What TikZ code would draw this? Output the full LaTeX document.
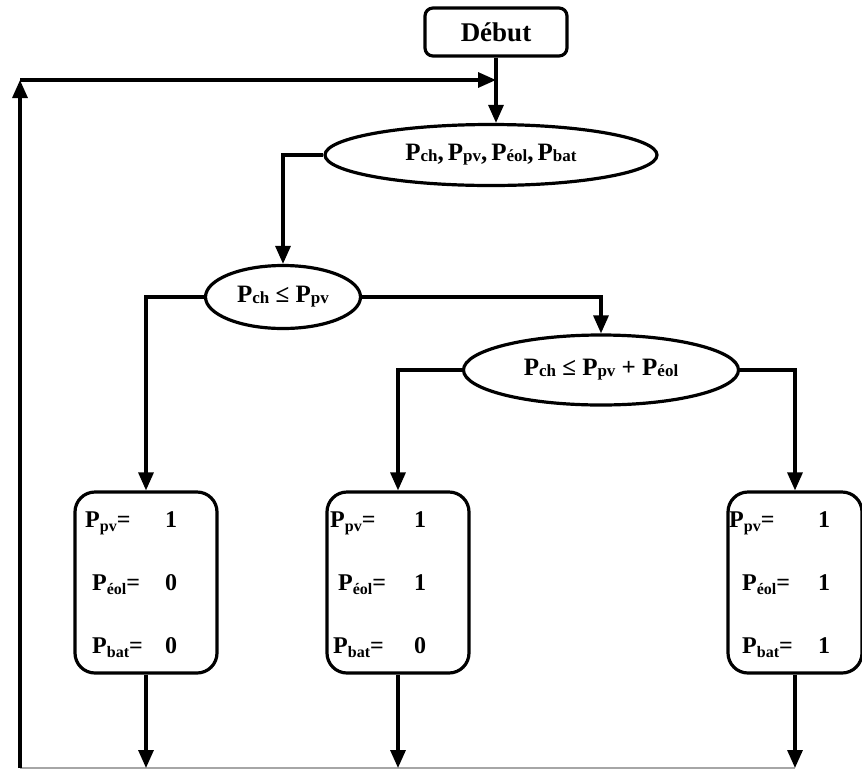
\documentclass[tikz,border=0pt]{standalone}
\usepackage{fontspec}
\setmainfont{Liberation Serif}
\usetikzlibrary{arrows.meta,shapes.geometric}

% subscript size and drop, set per node style
\newcommand\subsz{17}
\newcommand\sublow{1pt}
\newcommand\lowtxt[1]{\raisebox{-\sublow}{\fontsize{\subsz}{\subsz}\selectfont #1}}
\newcommand\Pw[1]{P\lowtxt{#1}}

\tikzset{
  flow/.style={line width=3.2pt},
  arr/.style={flow, -{Triangle[length=18pt,width=15pt]}},
  ovalbox/.style={ellipse, draw, line width=3.2pt, inner sep=0pt,
    font=\bfseries\fontsize{25}{30}\selectfont},
  startbox/.style={rectangle, rounded corners=8pt, draw, line width=3.2pt,
    minimum width=142pt, minimum height=48pt, inner sep=0pt,
    font=\bfseries\fontsize{27}{32}\selectfont},
  valbox/.style={rectangle, rounded corners=20pt, draw, line width=3.2pt,
    minimum height=181pt, inner sep=0pt},
  rowtxt/.style={anchor=base west, inner sep=0pt,
    font=\bfseries\fontsize{24}{28}\selectfont\def\subsz{16}\def\sublow{4pt}},
}

\begin{document}
\begin{tikzpicture}[x=1pt,y=-1pt]
  \useasboundingbox (0,0) rectangle (862,769);

  % start and decision nodes
  \node[startbox] (debut) at (496,32) {Début};
  \node[ovalbox, minimum width=332pt, minimum height=61pt] (e1) at (491,155)
    {\Pw{ch},\hspace{4pt}\Pw{pv},\hspace{4pt}\Pw{éol},\hspace{4pt}\Pw{bat}};
  \node[ovalbox, minimum width=155pt, minimum height=63pt] (e2) at (283,297)
    {\Pw{ch} ≤ \Pw{pv}};
  \node[ovalbox, minimum width=275pt, minimum height=70pt] (e3) at (601,370)
    {\Pw{ch} ≤ \Pw{pv} + \Pw{éol}};

  % result boxes
  \node[valbox, minimum width=142pt] (b1) at (146,582.5) {};
  \node[valbox, minimum width=142pt] (b2) at (398,582.5) {};
  \node[valbox, minimum width=134pt] (b3) at (795,582.5) {};

  % box contents
  \node[rowtxt] (b1l1) at (85,527) {\Pw{pv}=};
  \node[rowtxt] (b1v1) at (165,527) {1};
  \node[rowtxt] (b1l2) at (92,590) {\Pw{éol}=};
  \node[rowtxt] (b1v2) at (165,590) {0};
  \node[rowtxt] (b1l3) at (92,653) {\Pw{bat}=};
  \node[rowtxt] (b1v3) at (165,653) {0};

  \node[rowtxt] (b2l1) at (330,527) {\Pw{pv}=};
  \node[rowtxt] (b2v1) at (414,527) {1};
  \node[rowtxt] (b2l2) at (338,590) {\Pw{éol}=};
  \node[rowtxt] (b2v2) at (414,590) {1};
  \node[rowtxt] (b2l3) at (333,653) {\Pw{bat}=};
  \node[rowtxt] (b2v3) at (414,653) {0};

  \node[rowtxt] (b3l1) at (729,527) {\Pw{pv}=};
  \node[rowtxt] (b3v1) at (818,527) {1};
  \node[rowtxt] (b3l2) at (742,590) {\Pw{éol}=};
  \node[rowtxt] (b3v2) at (818,590) {1};
  \node[rowtxt] (b3l3) at (742,653) {\Pw{bat}=};
  \node[rowtxt] (b3v3) at (818,653) {1};

  % loop-back frame
  \coordinate (loopBL) at (20,768);
  \coordinate (loopTL) at (20,80);
  \coordinate (merge) at (debut.south |- loopTL);

  % connectors
  \draw[arr] (debut.south) -- (debut.south |- e1.north);
  \draw[arr] (e1.west) -| (e2.north);
  \draw[arr] (e2.west) -| (b1.north);
  \draw[arr] (e2.east) -| (e3.north);
  \draw[arr] (e3.west) -| (b2.north);
  \draw[arr] (e3.east) -| (b3.north);

  \draw[gray!70, line width=1.2pt] (loopBL) -- (b3.south |- loopBL);
  \draw[arr] (b1.south) -- (b1.south |- loopBL);
  \draw[arr] (b2.south) -- (b2.south |- loopBL);
  \draw[arr] (b3.south) -- (b3.south |- loopBL);
  \draw[arr] (loopBL) -- (loopTL);
  \draw[arr] (loopTL) -- (merge);
\end{tikzpicture}
\end{document}
